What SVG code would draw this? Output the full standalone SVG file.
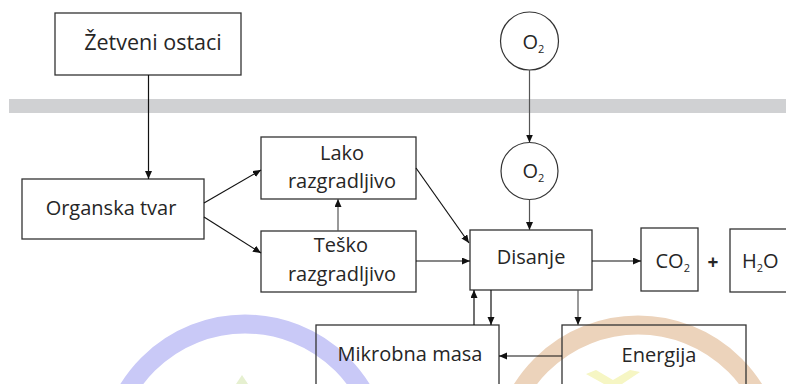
<svg xmlns="http://www.w3.org/2000/svg" width="786" height="384" viewBox="0 0 786 384">
  <defs>
    <marker id="arr" markerUnits="userSpaceOnUse" markerWidth="9" markerHeight="8" refX="8" refY="3.5" orient="auto">
      <path d="M0,0 L8,3.5 L0,7 z" fill="#111"/>
    </marker>
  </defs>
  <style>
    .box { fill: none; stroke: #333; stroke-width: 1.3; }
    .circ { fill: none; stroke: #333; stroke-width: 1.2; }
    .t { font-family: "Open Sans", "Noto Sans", sans-serif; font-size: 20px; fill: #262626; }
    .c { text-anchor: middle; }
    .sub { font-size: 11px; }
    .ln { fill: none; stroke: #111; stroke-width: 1.2; marker-end: url(#arr); }
    .lg { stroke: #555; }
  </style>
  <rect width="786" height="384" fill="#ffffff"/>
  <g id="watermark">
    <circle cx="245" cy="461" r="137" fill="none" stroke="#c9c9f7" stroke-width="19"/>
    <circle cx="638" cy="462" r="137" fill="none" stroke="#ecd3bb" stroke-width="19"/>
    <path d="M236,384 L242,375 L248,384 z" fill="#e6f0d0"/>
    <path d="M586,374 L604,384 L622,384 L640,372 L630,370 L613,380 L596,370 z" fill="#f6f6c4"/>
  </g>
  <rect id="membrane" x="9" y="99" width="777" height="14" fill="#d0d1d3"/>
  <g id="zetveni-ostaci">
    <rect class="box" x="55" y="13" width="186" height="62"/>
    <text class="t c" x="153" y="50" style="font-size:21.5px">Žetveni ostaci</text>
  </g>
  <g id="organska-tvar">
    <rect class="box" x="22" y="179" width="182" height="60"/>
    <text class="t c" x="111" y="215">Organska tvar</text>
  </g>
  <g id="lako">
    <rect class="box" x="261" y="137" width="155" height="62"/>
    <text class="t c" x="342" y="160">Lako</text>
    <text class="t c" x="342" y="188">razgradljivo</text>
  </g>
  <g id="tesko">
    <rect class="box" x="261" y="231" width="155" height="61"/>
    <text class="t c" x="341" y="252">Teško</text>
    <text class="t c" x="342" y="281">razgradljivo</text>
  </g>
  <g id="o2-top">
    <circle class="circ" cx="529.5" cy="41" r="29"/>
    <text class="t" x="522.5" y="49">O<tspan class="sub" dy="4">2</tspan></text>
  </g>
  <g id="o2-bottom">
    <circle class="circ" cx="529.5" cy="171" r="28.5"/>
    <text class="t" x="522.5" y="178">O<tspan class="sub" dy="4">2</tspan></text>
  </g>
  <g id="disanje">
    <rect class="box" x="470" y="230" width="122" height="60"/>
    <text class="t c" x="531" y="264">Disanje</text>
  </g>
  <g id="co2">
    <rect class="box" x="641" y="228" width="57" height="63"/>
    <text class="t" x="655.5" y="268">CO<tspan class="sub" dy="4">2</tspan></text>
  </g>
  <g id="plus">
    <text class="t c" x="713" y="269" style="font-weight:bold;font-size:19px">+</text>
  </g>
  <g id="h2o">
    <rect class="box" x="730" y="229" width="70" height="63"/>
    <text class="t" x="742" y="268">H<tspan class="sub" dy="4">2</tspan><tspan dy="-4">O</tspan></text>
  </g>
  <g id="mikrobna-masa">
    <rect class="box" x="316" y="325" width="183" height="80"/>
    <text class="t c" x="410" y="361">Mikrobna masa</text>
  </g>
  <g id="energija">
    <rect class="box" x="562" y="325" width="184" height="80"/>
    <text class="t c" x="659" y="362">Energija</text>
  </g>
  <g id="connectors">
    <path class="ln" d="M148.5,75 V179"/>
    <path class="ln" d="M204,203 L261,170"/>
    <path class="ln" d="M204,217 L261,253"/>
    <path class="ln lg" d="M338,231 V199"/>
    <path class="ln" d="M416,168 L469,243"/>
    <path class="ln" d="M416,261 H470"/>
    <path class="ln lg" d="M529.5,70 V142.5"/>
    <path class="ln lg" d="M529.5,199.5 V230"/>
    <path class="ln" d="M592,261 H641"/>
    <path class="ln" d="M474,325 V290"/>
    <path class="ln" d="M491,290 V325"/>
    <path class="ln lg" d="M578,290 V325"/>
    <path class="ln" d="M562,356 H499"/>
  </g>
</svg>
